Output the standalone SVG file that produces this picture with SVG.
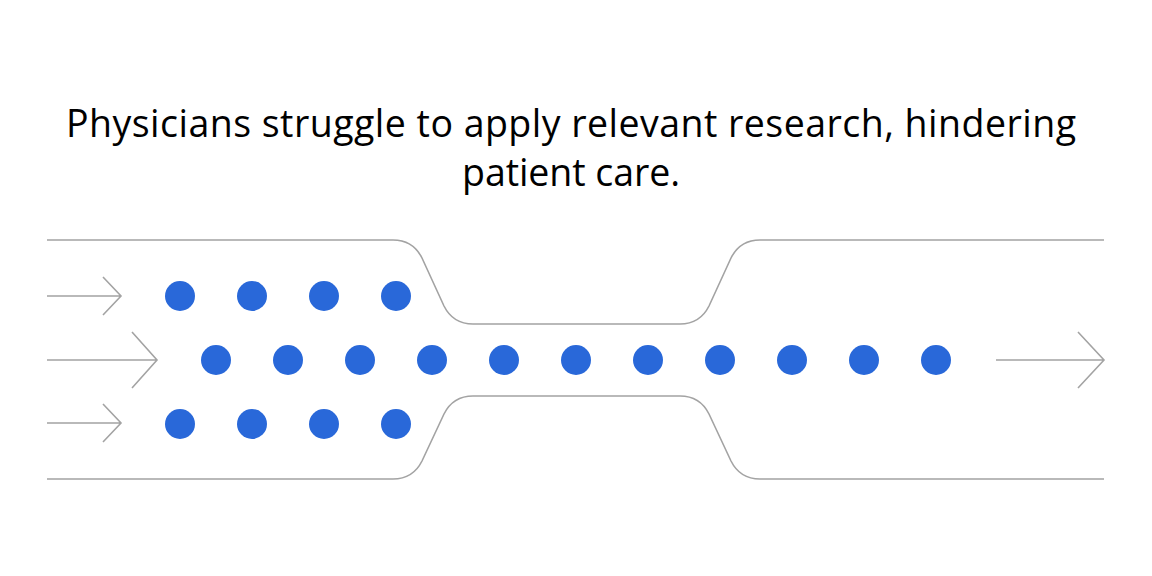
<svg xmlns="http://www.w3.org/2000/svg" width="1152" height="576" viewBox="0 0 1152 576">
<style>
.t{font-family:"Open Sans",Lato,"Liberation Sans",sans-serif;font-size:37.5px;font-weight:500;fill:#000;text-anchor:middle}
.w{fill:none;stroke:#a3a3a3;stroke-width:1.6}
.a{fill:none;stroke:#a3a3a3;stroke-width:1.6}
.d{fill:#2968d9}
</style>
<rect width="1152" height="576" fill="#fff"/>
<g id="title">
<text class="t" x="571" y="137" textLength="1010" lengthAdjust="spacing">Physicians struggle to apply relevant research, hindering</text>
<text class="t" x="571" y="186" textLength="218" lengthAdjust="spacing">patient care.</text>
</g>
<g id="channel">
<path class="w" d="M47,240 H393 Q413,240 422,258 L444,306 Q453,324 473,324 H680 Q700,324 709,306 L731,258 Q740,240 760,240 H1104"/>
<path class="w" d="M47,479 H393 Q413,479 422,461 L444,414 Q453,396 473,396 H680 Q700,396 709,414 L731,461 Q740,479 760,479 H1104"/>
</g>
<g id="connectors">
<path class="a" d="M47,296 H121 M103,277 L121,296 L103,315"/>
<path class="a" d="M47,360 H157 M132,332 L157,360 L132,388"/>
<path class="a" d="M47,423 H121 M103,404 L121,423 L103,442"/>
<path class="a" d="M996,360 H1104 M1078,332 L1104,360 L1078,388"/>
</g>
<g id="dots-top">
<circle class="d" cx="180" cy="296" r="15"/><circle class="d" cx="252" cy="296" r="15"/><circle class="d" cx="324" cy="296" r="15"/><circle class="d" cx="396" cy="296" r="15"/>
</g>
<g id="dots-middle">
<circle class="d" cx="216" cy="360" r="15"/><circle class="d" cx="288" cy="360" r="15"/><circle class="d" cx="360" cy="360" r="15"/><circle class="d" cx="432" cy="360" r="15"/><circle class="d" cx="504" cy="360" r="15"/><circle class="d" cx="576" cy="360" r="15"/><circle class="d" cx="648" cy="360" r="15"/><circle class="d" cx="720" cy="360" r="15"/><circle class="d" cx="792" cy="360" r="15"/><circle class="d" cx="864" cy="360" r="15"/><circle class="d" cx="936" cy="360" r="15"/>
</g>
<g id="dots-bottom">
<circle class="d" cx="180" cy="424" r="15"/><circle class="d" cx="252" cy="424" r="15"/><circle class="d" cx="324" cy="424" r="15"/><circle class="d" cx="396" cy="424" r="15"/>
</g>
</svg>
